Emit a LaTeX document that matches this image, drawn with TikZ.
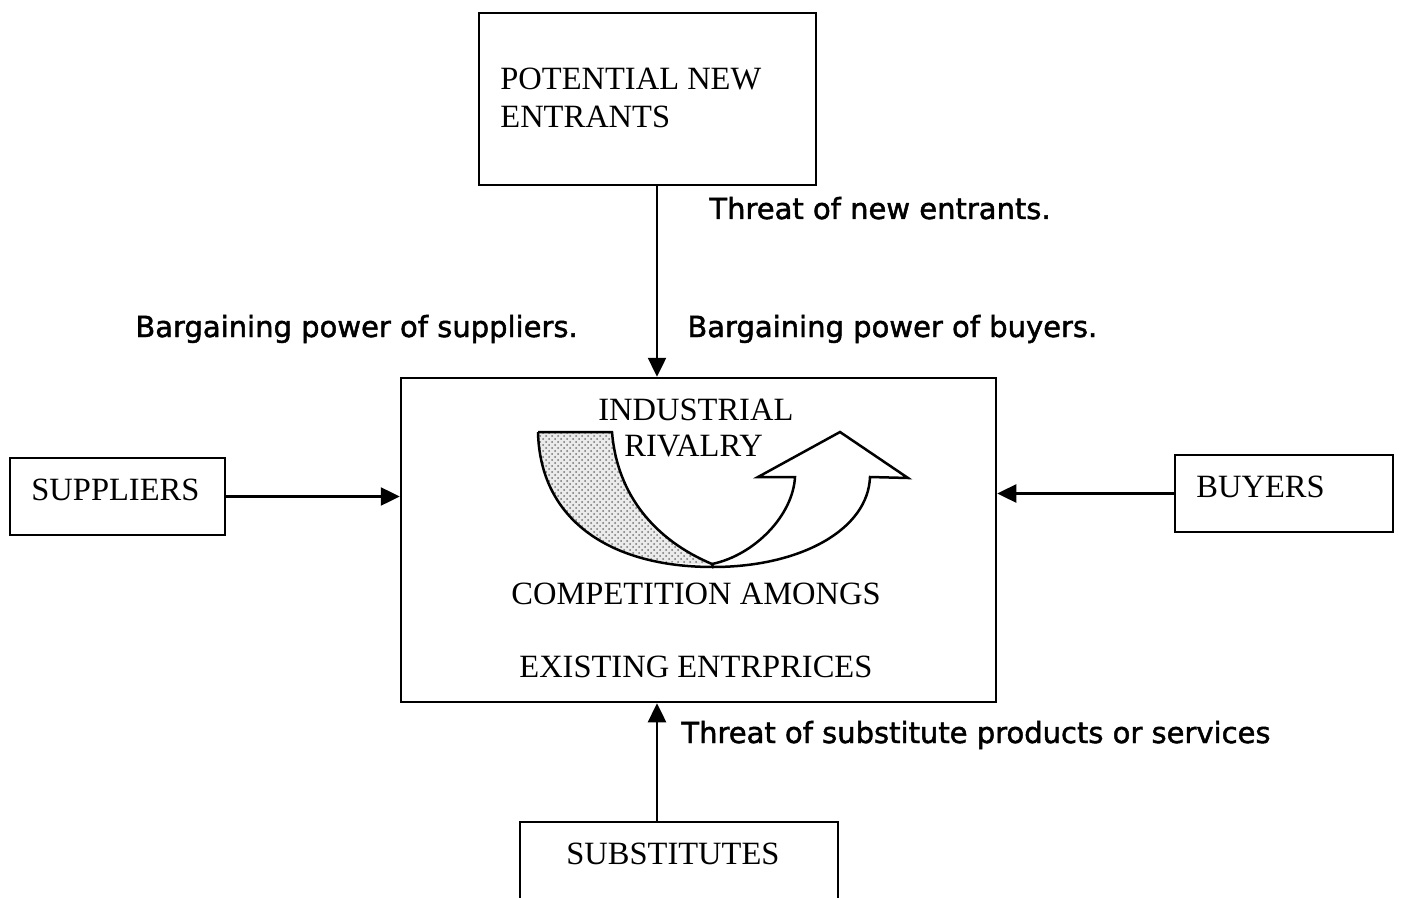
\documentclass[tikz,border=0pt]{standalone}
\usepackage{fontspec}
\setmainfont{Liberation Serif}
\newfontfamily\labelfont[FakeBold=1.6]{DejaVu Sans}
\usetikzlibrary{arrows.meta,fit,patterns}

\begin{document}
\begin{tikzpicture}[x=0.5pt,y=-0.5pt,
  box/.style={draw,line width=1.25pt,inner sep=0pt},
  boxtext/.style={anchor=base west,inner sep=0pt,font=\fontsize{16.25}{19}\selectfont},
  forcelabel/.style={anchor=base west,inner sep=0pt,font=\labelfont\fontsize{14.5}{17}\selectfont},
  arr/.style={line width=1.25pt,-{Triangle[length=9.5pt,width=9pt]}},
  ribbon/.style={line width=1.25pt,line join=miter}]

\useasboundingbox (0,0) rectangle (1401,898);
\clip (0,0) rectangle (1401,898);

% boxes
\node[box,fit={(479,13) (816,185)}] (entrants) {};
\node[box,fit={(401,378) (996,702)}] (rivalry) {};
\node[box,fit={(10,458) (225,535)}] (suppliers) {};
\node[box,fit={(1175,455) (1393,532)}] (buyers) {};
\node[box,fit={(520,822) (838,960)}] (substitutes) {};

% box texts
\node[boxtext] (t1) at (500,90) {POTENTIAL NEW};
\node[boxtext] (t2) at (500,128) {ENTRANTS};
\node[boxtext] (t3) at (31,500) {SUPPLIERS};
\node[boxtext] (t4) at (1196,497) {BUYERS};
\node[boxtext] (t5) at (566,864) {SUBSTITUTES};
\node[boxtext] (t6) at (598,420) {INDUSTRIAL};
\node[boxtext] (t7) at (624,456) {RIVALRY};
\node[boxtext] (t8) at (511,604) {COMPETITION AMONGS};
\node[boxtext] (t9) at (519,677) {EXISTING ENTRPRICES};

% curved rivalry arrow: dotted back face
\fill[black!8] (538,432) -- (612,432)
  .. controls (617,495) and (655,540) .. (712,564)
  .. controls (610,567) and (540,520) .. (538,432) -- cycle;
\fill[pattern=crosshatch dots,pattern color=black!55] (538,432) -- (612,432)
  .. controls (617,495) and (655,540) .. (712,564)
  .. controls (610,567) and (540,520) .. (538,432) -- cycle;
\draw[ribbon] (538,432) -- (612,432)
  .. controls (617,495) and (655,540) .. (712,564);
\draw[ribbon] (538,432) .. controls (540,520) and (610,567) .. (713,567);
% front face with head
\draw[ribbon,fill=white] (712,564)
  .. controls (755,555) and (793,515) .. (795,477)
  -- (758,477) -- (840,432) -- (908,478) -- (870,477)
  .. controls (868,530) and (800,567) .. (713,567) -- cycle;

% connectors
\coordinate (vx) at (657,0);
\draw[arr] (entrants.south -| vx) -- (rivalry.north -| vx);
\draw[arr] (suppliers.east) -- (rivalry.west |- suppliers.east);
\draw[arr] (buyers.west) -- (rivalry.east |- buyers.west);
\draw[arr] (substitutes.north -| vx) -- (rivalry.south -| vx);

% force labels
\node[forcelabel] (l1) at (709,219) {Threat of new entrants.};
\node[forcelabel] (l2) at (135,337) {Bargaining power of suppliers.};
\node[forcelabel] (l3) at (687,337) {Bargaining power of buyers.};
\node[forcelabel] (l4) at (681,743) {Threat of substitute products or services};
\end{tikzpicture}
\end{document}
